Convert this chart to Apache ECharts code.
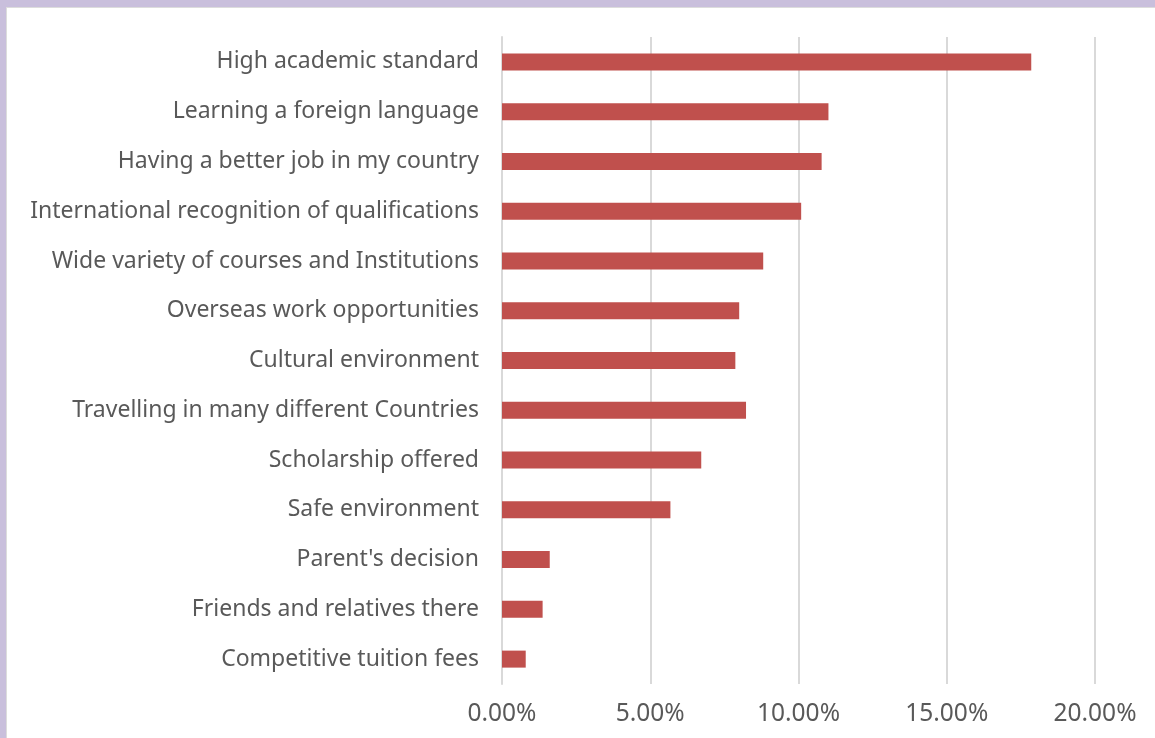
<!DOCTYPE html>
<html>
<head>
<meta charset="utf-8">
<script src="https://cdn.jsdelivr.net/npm/echarts@6/dist/echarts.min.js"></script>
<style>
  html, body { margin: 0; padding: 0; background: #c9bfdc; width: 1155px; height: 738px; overflow: hidden; }
  #frame { position: absolute; left: 6px; top: 7px; width: 1160px; height: 740px; background: #ffffff; border-left: 1px solid #dcdcdc; border-top: 1px solid #dcdcdc; }
  #chart { position: absolute; left: -7px; top: -8px; width: 1155px; height: 738px; }
</style>
</head>
<body>
<div id="frame"><div id="chart"></div></div>
<script>
// Reasons for choosing to study abroad (share of responses, %)
const categories = [
  "High academic standard",
  "Learning a foreign language",
  "Having a better job in my country",
  "International recognition of qualifications",
  "Wide variety of courses and Institutions",
  "Overseas work opportunities",
  "Cultural environment",
  "Travelling in many different Countries",
  "Scholarship offered",
  "Safe environment",
  "Parent's decision",
  "Friends and relatives there",
  "Competitive tuition fees"
];
const shares = [17.85, 11.01, 10.78, 10.09, 8.81, 8.0, 7.87, 8.23, 6.72, 5.68, 1.61, 1.37, 0.80];
const axisTicks = [0, 5, 10, 15, 20];

const chart = echarts.init(document.getElementById('chart'), null, { renderer: 'canvas' });

chart.setOption({
  animation: false,
  grid: { left: 502, right: 60, top: 37, bottom: 54, containLabel: false },
  xAxis: {
    type: 'value',
    min: axisTicks[0],
    max: axisTicks[axisTicks.length - 1],
    interval: axisTicks[1] - axisTicks[0],
    axisLine: { show: false },
    axisTick: { show: false },
    splitLine: { show: true, lineStyle: { color: '#d9d9d9', width: 2 } },
    axisLabel: {
      margin: 18,
      fontFamily: 'Noto Sans',
      fontSize: 24.5,
      color: '#595959',
      formatter: v => v.toFixed(2) + '%'
    }
  },
  yAxis: {
    type: 'category',
    inverse: true,
    data: categories,
    axisLine: { show: true, lineStyle: { color: '#d9d9d9', width: 2 } },
    axisTick: { show: false },
    axisLabel: {
      margin: 23,
      padding: [4, 0, 0, 0],
      fontFamily: 'Noto Sans',
      fontSize: 23,
      color: '#595959'
    }
  },
  series: [{
    type: 'bar',
    data: shares,
    barWidth: 17,
    itemStyle: { color: '#c0504d' }
  }]
});
</script>
</body>
</html>
